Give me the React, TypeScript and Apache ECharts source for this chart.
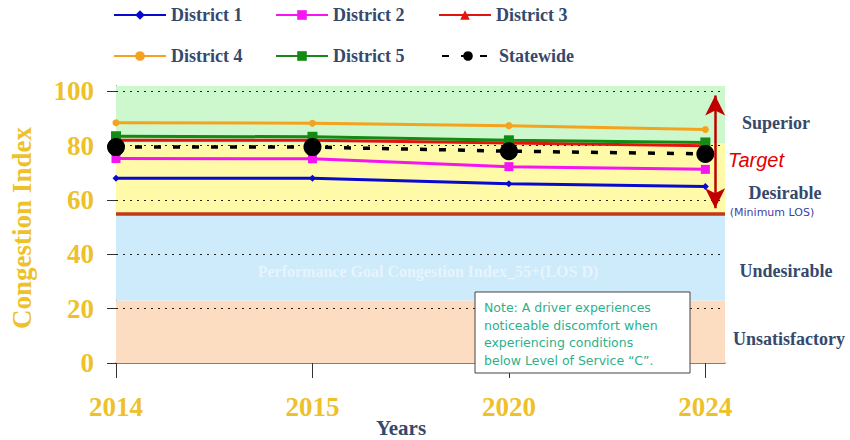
import React, { useEffect, useRef } from "react";
import * as echarts from "echarts";

const years = ["2014", "2015", "2020", "2024"];
const district1 = [68, 68, 66, 65];
const district2 = [75.3, 75.2, 72.3, 71.3];
const district3 = [82, 82, 81, 80];
const district4 = [88.5, 88.3, 87.4, 86];
const district5 = [83.5, 83.3, 82, 81.2];
const statewide = [79.5, 79.5, 78, 77];
const yTicks = [0, 20, 40, 60, 80, 100];
const gridLines = [20, 40, 60, 80, 100];
const bandLimits = [0, 23, 55, 81, 102];
const bandColors = ["#FDDDC2", "#CDEBFB", "#FFFAA8", "#CDF7CD"];
const minLOS = 55;
const targetRange = [98.5, 57];

const GOLD = "#EEC12A";
const SLATE = "#34496C";
const SERIF = "'Liberation Serif', 'Times New Roman', serif";

const seriesDefs = [
  { name: "District 1", data: district1, color: "#0A0ACF", symbol: "diamond", size: 7 },
  { name: "District 2", data: district2, color: "#F415F0", symbol: "rect", size: 9 },
  { name: "District 3", data: district3, color: "#E3140E", symbol: "triangle", size: 9 },
  { name: "District 4", data: district4, color: "#F5A21F", symbol: "circle", size: 7 },
  { name: "District 5", data: district5, color: "#138A13", symbol: "rect", size: 10 },
];

const legendPos = [
  { left: 113, top: 6 },
  { left: 275, top: 6 },
  { left: 438, top: 6 },
  { left: 113, top: 47 },
  { left: 275, top: 47 },
  { left: 441, top: 47 },
];

export default function App() {
  const ref = useRef<HTMLDivElement>(null);
  useEffect(() => {
    if (!ref.current) return;
    const chart = echarts.init(ref.current, undefined, { renderer: "svg" });
    const names = [...seriesDefs.map((s) => s.name), "Statewide"];
    const series: any[] = [
      {
        name: "bands",
        type: "line",
        data: [],
        silent: true,
        z: 1,
        markArea: {
          silent: true,
          z: 1,
          data: bandColors.map((c, i) => [
            { yAxis: bandLimits[i], itemStyle: { color: c } },
            { yAxis: bandLimits[i + 1] },
          ]),
        },
        markLine: {
          silent: true,
          z: 2,
          symbol: "none",
          label: { show: false },
          data: [
            ...gridLines.map((v) => ({
              yAxis: v,
              lineStyle: { color: "#222", type: [2, 5], width: 1 },
            })),
            { yAxis: minLOS, lineStyle: { color: "#C4381A", type: "solid", width: 3.5 } },
          ],
        },
      },
      ...seriesDefs.map((s) => ({
        name: s.name,
        type: "line",
        z: 3,
        data: s.data.map((v, i) => [i, v]),
        symbol: s.symbol,
        symbolSize: s.size,
        showAllSymbol: true,
        lineStyle: { color: s.color, width: 3 },
        itemStyle: { color: s.color },
      })),
      {
        name: "Statewide",
        type: "line",
        z: 4,
        data: statewide.map((v, i) => [i, v]),
        symbol: "circle",
        symbolSize: 18,
        lineStyle: { color: "#000", width: 3.5, type: [7, 12] },
        itemStyle: { color: "#000" },
        markLine: {
          silent: true,
          symbol: ["arrow", "arrow"],
          symbolSize: [15, 20],
          label: { show: false },
          lineStyle: { color: "#C00000", width: 2.5, type: "solid" },
          data: [[{ coord: [3.05, targetRange[0]] }, { coord: [3.05, targetRange[1]] }]],
        },
      },
    ];

    const option: any = {
      animation: false,
      backgroundColor: "#fff",
      grid: { left: 116, right: 125, top: 86, bottom: 77 },
      legend: names.map((n, i) => ({
        data: [n],
        left: legendPos[i].left,
        top: legendPos[i].top,
        itemWidth: 52,
        itemHeight: 12,
        selectedMode: false,
        padding: 0,
        textStyle: { fontFamily: SERIF, fontWeight: "bold", fontSize: 18, color: SLATE },
      })),
      xAxis: {
        type: "value",
        min: 0,
        max: 3.1,
        interval: 1,
        axisLine: { show: true, lineStyle: { color: "#555", width: 1.5 } },
        axisTick: { show: true, customValues: [0, 1, 2, 3], length: 15, lineStyle: { color: "#333" } },
        axisLabel: {
          customValues: [0, 1, 2, 3],
          formatter: (v: number) => years[Math.round(v)] ?? "",
          margin: 30,
          fontFamily: SERIF,
          fontWeight: "bold",
          fontSize: 27,
          color: GOLD,
        },
        splitLine: { show: false },
      },
      yAxis: {
        type: "value",
        min: 0,
        max: 102,
        interval: 20,
        axisLine: { show: true, lineStyle: { color: "#222", width: 1 } },
        axisTick: { show: true, customValues: yTicks, length: 9, lineStyle: { color: "#333" } },
        axisLabel: {
          customValues: yTicks,
          margin: 22,
          fontFamily: SERIF,
          fontWeight: "bold",
          fontSize: 27,
          color: GOLD,
        },
        splitLine: { show: false },
      },
      graphic: [
        {
          type: "text",
          x: 22,
          y: 228,
          rotation: Math.PI / 2,
          z: 100,
          style: {
            text: "Congestion Index",
            fontFamily: SERIF,
            fontWeight: "bold",
            fontSize: 27,
            fill: GOLD,
            align: "center",
            verticalAlign: "middle",
          },
        },
        {
          type: "text",
          x: 401,
          y: 428,
          z: 100,
          style: {
            text: "Years",
            fontFamily: SERIF,
            fontWeight: "bold",
            fontSize: 21,
            fill: SLATE,
            align: "center",
            verticalAlign: "middle",
          },
        },
        ...[
          { t: "Superior", x: 776, y: 123 },
          { t: "Desirable", x: 785, y: 193 },
          { t: "Undesirable", x: 786, y: 271 },
          { t: "Unsatisfactory", x: 789, y: 339 },
        ].map((l) => ({
          type: "text",
          x: l.x,
          y: l.y,
          z: 100,
          style: {
            text: l.t,
            fontFamily: SERIF,
            fontWeight: "bold",
            fontSize: 18,
            fill: SLATE,
            align: "center",
            verticalAlign: "middle",
          },
        })),
        {
          type: "text",
          x: 772,
          y: 212,
          z: 100,
          style: {
            text: "(Minimum LOS)",
            fontFamily: "'DejaVu Sans', sans-serif",
            fontSize: 11,
            fill: "#3A3FA8",
            align: "center",
            verticalAlign: "middle",
          },
        },
        {
          type: "text",
          x: 756,
          y: 160,
          z: 100,
          style: {
            text: "Target",
            fontFamily: "'Liberation Sans', Arial, sans-serif",
            fontStyle: "italic",
            fontSize: 20,
            fill: "#E00000",
            align: "center",
            verticalAlign: "middle",
          },
        },
        {
          type: "text",
          x: 428,
          y: 271,
          z: 100,
          silent: true,
          style: {
            text: "Performance Goal Congestion Index_55+(LOS D)",
            fontFamily: SERIF,
            fontWeight: "bold",
            fontSize: 16,
            fill: "rgba(255,255,255,0.5)",
            align: "center",
            verticalAlign: "middle",
          },
        },
        {
          type: "group",
          x: 475,
          y: 292,
          z: 100,
          children: [
            {
              type: "rect",
              z: 100,
              shape: { x: 0, y: 0, width: 215, height: 81 },
              style: { fill: "#fff", stroke: "#444", lineWidth: 1 },
            },
            {
              type: "text",
              z: 101,
              x: 9,
              y: 7,
              style: {
                text:
                  "Note: A driver experiences\nnoticeable discomfort when\nexperiencing conditions\nbelow Level of Service \u201CC\u201D.",
                fontFamily: "'DejaVu Sans', Verdana, sans-serif",
                fontSize: 12.5,
                lineHeight: 17.5,
                fill: "#2DB08A",
                align: "left",
                verticalAlign: "top",
              },
            },
          ],
        },
      ],
      series,
    };
    chart.setOption(option);
    return () => chart.dispose();
  }, []);
  return (
    <div
      ref={ref}
      style={{ position: "absolute", left: 0, top: 0, width: 850, height: 440 }}
    />
  );
}
